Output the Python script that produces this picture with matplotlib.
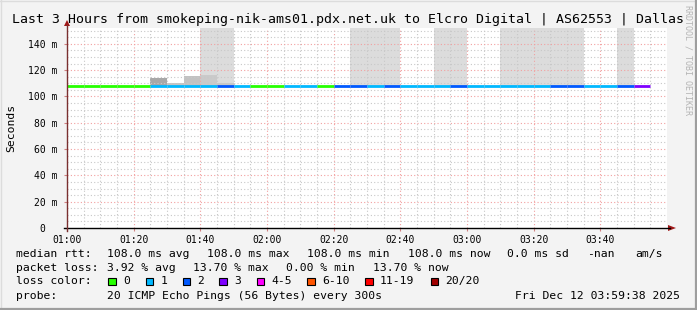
import numpy as np
import matplotlib
matplotlib.use('Agg')
import matplotlib.pyplot as plt
from matplotlib.patches import Rectangle

W, H = 697, 310
MONO = 'DejaVu Sans Mono'

# ---- data (5 minute steps starting 01:00) ----
title = 'Last 3 Hours from smokeping-nik-ams01.pdx.net.uk to Elcro Digital | AS62553 | Dallas'
median_ms = [108.0] * 35
loss = [0, 0, 0, 0, 0, 1, 1, 1, 1, 2, 1, 0, 0, 1, 1, 0, 2, 2, 1, 2,
        1, 1, 1, 2, 1, 1, 1, 1, 1, 2, 2, 1, 1, 2, 3]
# inner smoke upper edge (ms), None = no visible smoke
smoke_inner = [None, None, None, None, None, 113.7, 110.4, 115.7, 116.3, 110.4,
               None, None, None, None, None, None, None, None, None, None,
               None, None, None, None, None, None, None, None, None, None,
               None, None, None, None, None]
# outer smoke upper edge (ms), off the top of the scale
smoke_outer = [None] * 35
for i in [8, 9, 17, 18, 19, 22, 23, 26, 27, 28, 29, 30, 33]:
    smoke_outer[i] = 170.0

xtick_labels = ['01:00', '01:20', '01:40', '02:00', '02:20', '02:40', '03:00', '03:20', '03:40']
ytick_vals = [0, 20, 40, 60, 80, 100, 120, 140]
ytick_labels = ['0  ', '20 m', '40 m', '60 m', '80 m', '100 m', '120 m', '140 m']

loss_labels = ['0', '1', '2', '3', '4-5', '6-10', '11-19', '20/20']
loss_colors = ['#26ff00', '#00b8ff', '#0059ff', '#7e00ff', '#ff00ff', '#ff5500', '#ff0000', '#a10000']

rtt_row = ['108.0 ms avg', '108.0 ms max', '108.0 ms min', '108.0 ms now', '0.0 ms sd', '-nan', 'am/s']
loss_row = ['3.92 % avg', '13.70 % max', '0.00 % min', '13.70 % now']
probe_text = '20 ICMP Echo Pings (56 Bytes) every 300s'
stamp = 'Fri Dec 12 03:59:38 2025'

inner_grey = {5: '#a8a8a8', 6: '#c4c4c4', 7: '#c2c2c2', 8: '#cacaca', 9: '#c8c8c8'}


def fx(x):
    return x / W


def fy(y):
    return 1 - y / H


fig = plt.figure(figsize=(W / 100, H / 100), dpi=100, facecolor='#f3f3f3')

# plot area: x 67..667, y 28..228 px
ax = fig.add_axes([fx(67), fy(228), 600 / W, 200 / H])
ax.set_facecolor('white')
ax.set_xlim(0, 180)
ax.set_ylim(0, 152)

t = np.arange(len(median_ms)) * 5

# smoke
for i in range(len(t)):
    if smoke_outer[i] is not None:
        ax.bar(t[i], smoke_outer[i] - median_ms[i], width=5, bottom=median_ms[i], align='edge',
               color='#dcdcdc', linewidth=0, zorder=2)
    if smoke_inner[i] is not None:
        ax.bar(t[i], smoke_inner[i] - median_ms[i], width=5, bottom=median_ms[i], align='edge',
               color=inner_grey.get(i, '#b8b8b8'), linewidth=0, zorder=3)

# median line coloured by loss
edges = [0, 1, 2, 3, 5, 10, 19, 20]
for i in range(len(t)):
    ci = next(k for k, e in enumerate(edges) if loss[i] <= e)
    ax.plot([t[i], t[i] + 5], [median_ms[i], median_ms[i]], color=loss_colors[ci],
            lw=2.0, solid_capstyle='butt', zorder=5)

# grid
for v in np.arange(5, 180, 5):
    if v % 20 == 0:
        ax.axvline(v, color='#f2a0a0', lw=0.8, ls=(0, (1, 2)), zorder=4)
    else:
        ax.axvline(v, color='#c8c8c8', lw=0.8, ls=(0, (1, 2)), zorder=4)
for v in np.arange(5, 152, 5):
    if v % 20 == 0:
        ax.axhline(v, color='#f2a0a0', lw=0.8, ls=(0, (1, 2)), zorder=4)
    else:
        ax.axhline(v, color='#c8c8c8', lw=0.8, ls=(0, (1, 2)), zorder=4)

for s in ax.spines.values():
    s.set_visible(False)

ax.set_xticks(np.arange(0, 180, 20))
ax.set_xticklabels(xtick_labels, fontfamily=MONO, fontsize=7)
ax.set_yticks(ytick_vals)
ax.set_yticklabels(ytick_labels, fontfamily=MONO, fontsize=7)
ax.tick_params(axis='x', length=2, color='#d08080', pad=3)
ax.tick_params(axis='y', length=2, color='#d08080', pad=5)

# axes lines with arrows (figure pixel coords)
fig.add_artist(plt.Line2D([fx(64), fx(670)], [fy(228), fy(228)], color='black', lw=1.0))
fig.add_artist(plt.Line2D([fx(67), fx(67)], [fy(231), fy(25)], color='#7a3030', lw=1.0))
fig.add_artist(plt.Polygon([[fx(668), fy(225)], [fx(676), fy(228)], [fx(668), fy(231)]],
                           closed=True, color='#a01818', lw=0))
fig.add_artist(plt.Polygon([[fx(64), fy(26)], [fx(67), fy(20)], [fx(70), fy(26)]],
                           closed=True, color='#a01818', lw=0))

# texts
fig.text(fx(12.3), fy(19.3), title, fontfamily=MONO, fontsize=9.5, va='center', ha='left')
fig.text(fx(11), fy(128), 'Seconds', fontfamily=MONO, fontsize=8.2, rotation=90,
         va='center', ha='center')
fig.text(fx(688), fy(60), 'RRDTOOL / TOBI OETIKER', fontfamily=MONO, fontsize=6,
         rotation=270, va='center', ha='center', color='#b4b4b4')

fs = 8.2
rows_y = [254, 268.3, 281.3, 296]
fig.text(fx(16), fy(rows_y[0]), 'median rtt:', fontfamily=MONO, fontsize=fs, va='center')
for txt, x in zip(rtt_row, [107.3, 207.3, 307.3, 408.3, 507.3, 586.7, 635.3]):
    fig.text(fx(x), fy(rows_y[0]), txt, fontfamily=MONO, fontsize=fs, va='center')

fig.text(fx(16), fy(rows_y[1]), 'packet loss:', fontfamily=MONO, fontsize=fs, va='center')
for txt, x in zip(loss_row, [107.3, 193.3, 286, 372.7]):
    fig.text(fx(x), fy(rows_y[1]), txt, fontfamily=MONO, fontsize=fs, va='center')

fig.text(fx(16), fy(rows_y[2]), 'loss color:', fontfamily=MONO, fontsize=fs, va='center')
box_x = [108.3, 145.7, 182.7, 219.3, 256.7, 307.3, 365.3, 430.7]
for lab, col, bx in zip(loss_labels, loss_colors, box_x):
    fig.add_artist(Rectangle((fx(bx), fy(rows_y[2] + 4)), 7.5 / W, 7.5 / H,
                             facecolor=col, edgecolor='black', lw=0.8))
    fig.text(fx(bx + 14.5), fy(rows_y[2]), lab, fontfamily=MONO, fontsize=fs, va='center')

fig.text(fx(16), fy(rows_y[3]), 'probe:', fontfamily=MONO, fontsize=fs, va='center')
fig.text(fx(107.3), fy(rows_y[3]), probe_text, fontfamily=MONO, fontsize=fs, va='center')
fig.text(fx(680), fy(rows_y[3]), stamp, fontfamily=MONO, fontsize=fs, va='center', ha='right')

# image frame
fig.add_artist(plt.Line2D([0, 1], [fy(0.5), fy(0.5)], color='#dcdcdc', lw=1))
fig.add_artist(plt.Line2D([fx(0.5), fx(0.5)], [0, 1], color='#dcdcdc', lw=1))
fig.add_artist(plt.Line2D([0, 1], [fy(309), fy(309)], color='#9e9e9e', lw=1.6))
fig.add_artist(plt.Line2D([fx(696), fx(696)], [0, 1], color='#9e9e9e', lw=1.6))

fig.savefig('out.png', dpi=100, facecolor=fig.get_facecolor())
